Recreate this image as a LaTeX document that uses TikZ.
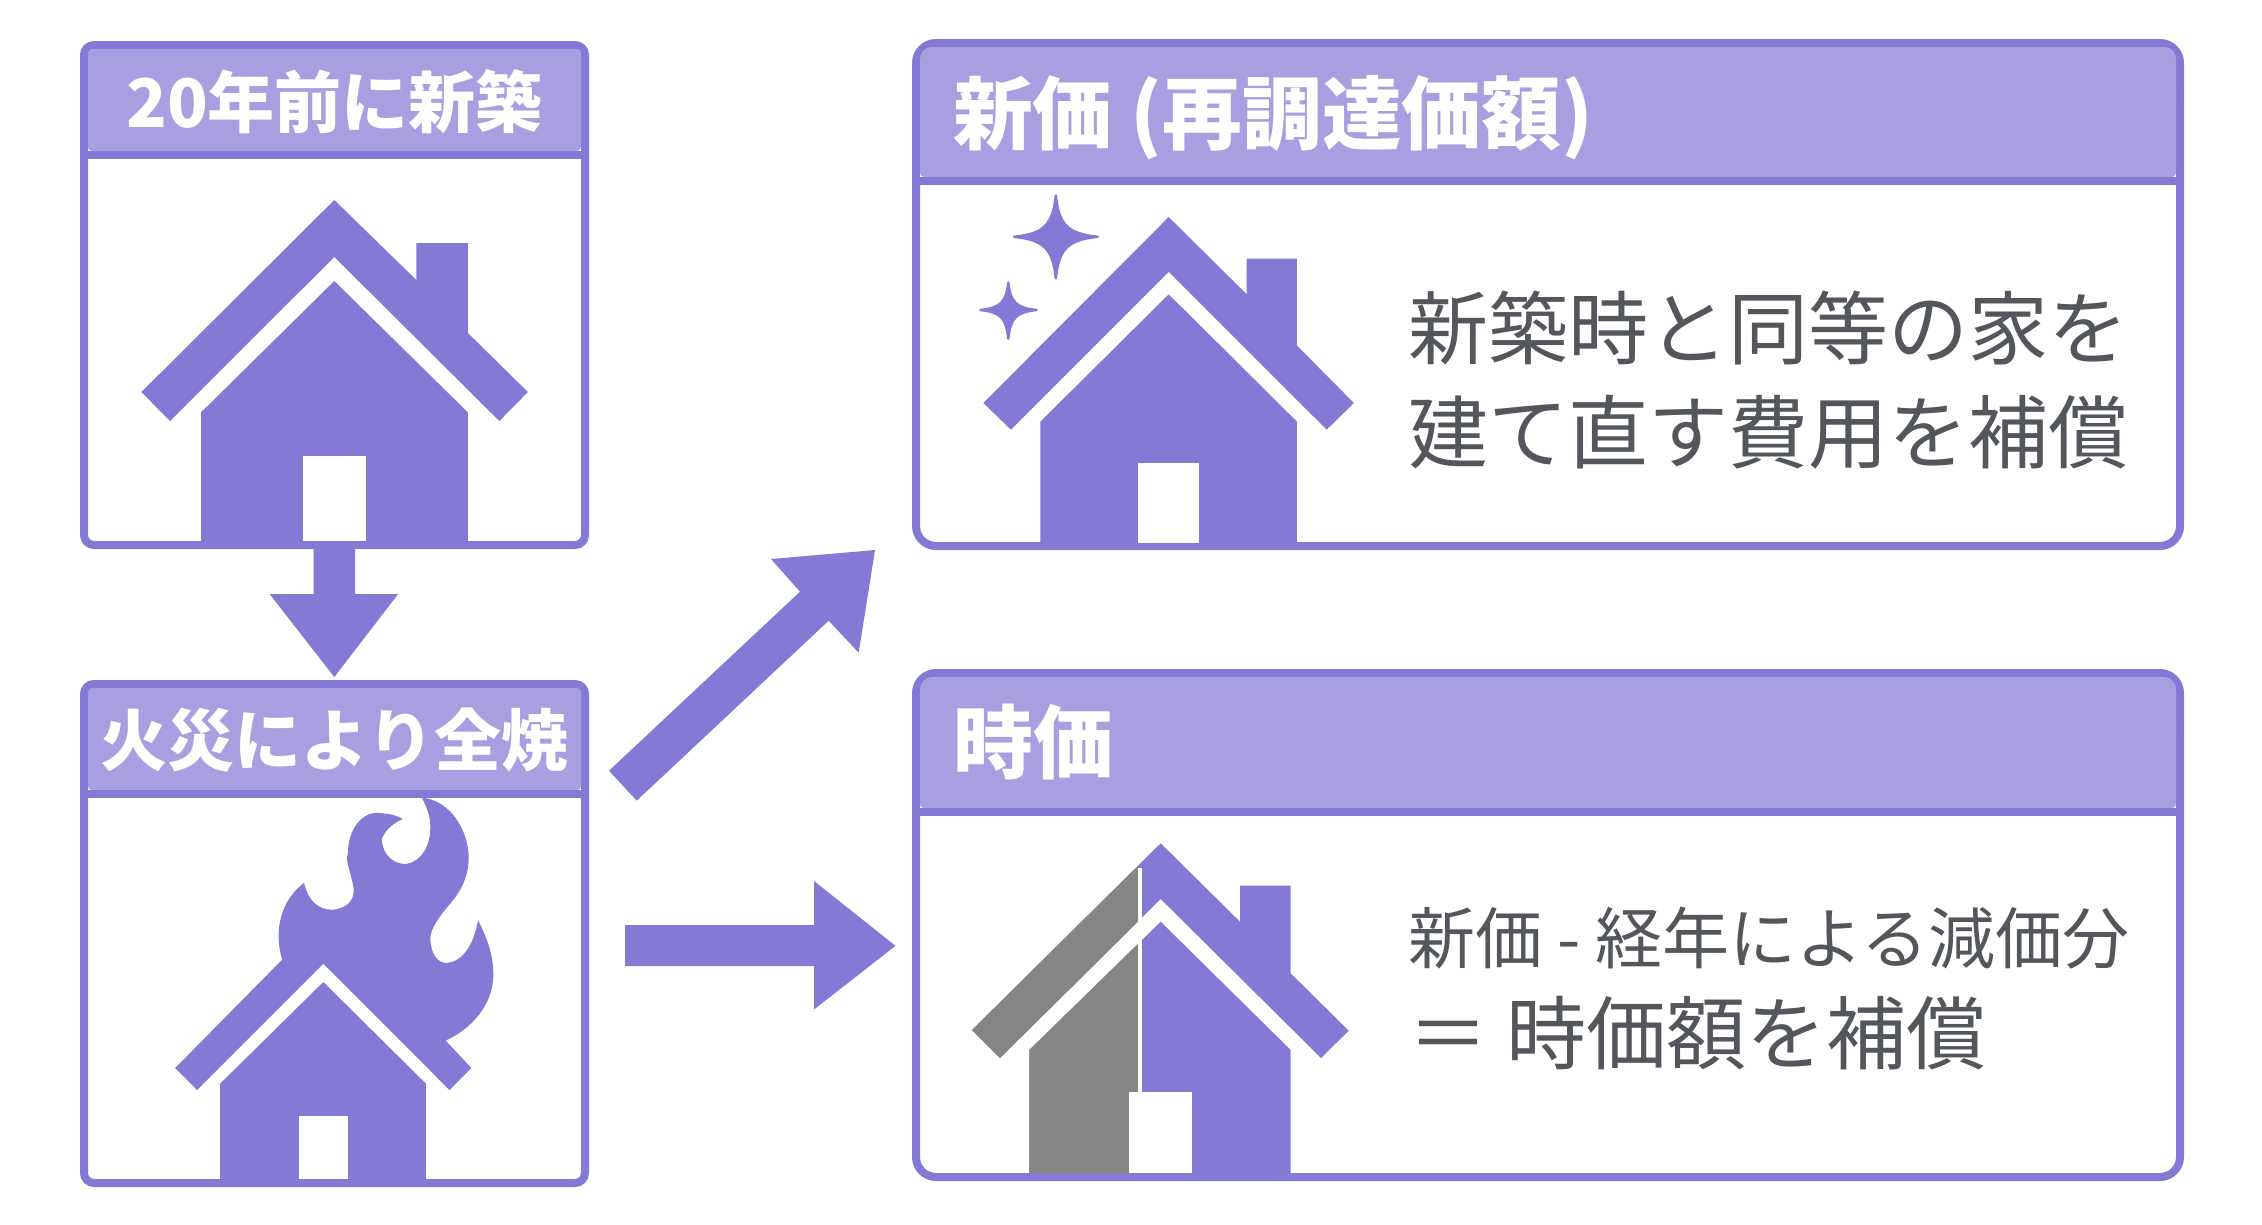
\documentclass[tikz,border=0pt]{standalone}
\usepackage{fontspec}
\setmainfont{Noto Sans CJK JP}
\definecolor{bord}{HTML}{8579D6}
\definecolor{head}{HTML}{A89FE0}
\definecolor{ink}{HTML}{53565A}
\definecolor{grayhalf}{HTML}{858585}
\tikzset{
  frame/.style={draw=bord,line width=8pt,fill=white},
  headbar/.style={fill=head},
  headrule/.style={draw=bord,line width=8pt},
  icon/.style={fill=bord},
  spark/.style={fill=bord,draw=bord,line width=2.5pt,line join=round},
  hole/.style={fill=white},
  headtext/.style={text=white,font=\bfseries,inner sep=0pt},
  bodytext/.style={text=ink,inner sep=0pt,anchor=base west},
}
\newcommand{\fs}[1]{\fontsize{#1pt}{#1pt}\selectfont}
\begin{document}
\begin{tikzpicture}[x=1pt,y=-1pt]
\useasboundingbox (0,0) rectangle (2262,1224);
% box 1
\draw[frame,rounded corners=10pt] (84,45) rectangle (585,545);
\fill[headbar,rounded corners=4pt] (88,49) rectangle (581,151);
\draw[headrule] (84,155) -- (585,155);
\node[headtext,anchor=base] (t1) at (334.5,127) {\fs{67}20年前に新築};
\fill[icon] (334.3,200) -- (416.4,280) -- (416.4,243) -- (467.9,243) -- (467.9,333) -- (527.9,392) -- (499.3,421) -- (334.3,257) -- (170,421) -- (141.4,392) -- cycle;
\fill[icon] (334.3,281) -- (467.9,412.4) -- (467.9,545) -- (201,545) -- (201,412.4) -- cycle;
\fill[hole] (302.9,455.8) rectangle (366.4,540.6);
% arrow down
\fill[icon] (313.6,546) -- (355,546) -- (355,594) -- (398.2,594) -- (334.3,677) -- (269.6,594) -- (313.6,594) -- cycle;
% box 2
\draw[frame,rounded corners=10pt] (84,684) rectangle (585,1183);
\fill[headbar,rounded corners=4pt] (88,688) rectangle (581,790);
\draw[headrule] (84,794) -- (585,794);
\node[headtext,anchor=base] (t2) at (334.5,765) {\fs{67}火災により全焼};
\fill[icon] (282.2,959.6) .. controls (276,940) and (275,905) .. (304,883)
 .. controls (308,900) and (318,910) .. (332.6,909.7)
 .. controls (348,908) and (355,900) .. (353.5,887.3)
 .. controls (350,868) and (345,862) .. (348,852.8)
 .. controls (348,830) and (362,810) .. (380.9,813.2)
 .. controls (390,814) and (396,815) .. (402.8,819)
 .. controls (388,825) and (380,838) .. (382,842.5)
 .. controls (384,855) and (393,864) .. (405.6,863.9)
 .. controls (422,862) and (430,845) .. (430.3,828.7)
 .. controls (431,818) and (427,808) .. (422,797.7)
 .. controls (450,800) and (468,830) .. (468.7,856.3)
 .. controls (469,875) and (462,890) .. (449.5,904.5)
 .. controls (438,918) and (430,930) .. (430.3,938.9)
 .. controls (431,955) and (438,963) .. (446.7,963)
 .. controls (462,962) and (474,945) .. (478,920)
 .. controls (488,940) and (493,955) .. (493.3,973.4)
 .. controls (494,1005) and (470,1030) .. (445.6,1040.5)
 -- (471.4,1068) -- (449.5,1090) -- (323.3,963.7) -- (197,1090) -- (175.2,1068) -- cycle;
\fill[icon] (323.3,982) -- (425.9,1083.6) -- (425.9,1183) -- (220.2,1183) -- (220.2,1083.6) -- cycle;
\fill[hole] (298.6,1116.3) rectangle (348,1179);
% arrow up-right
\fill[icon] (609,770.7) -- (800,591.7) -- (771,559) -- (875,550) -- (858.7,652.7) -- (828.7,620.7) -- (636.7,800.7) -- cycle;
% arrow right
\fill[icon] (625,925) -- (814,925) -- (814,881) -- (895.5,945.8) -- (814,1009.5) -- (814,966) -- (625,966) -- cycle;
% box 3
\draw[frame,rounded corners=20pt] (916,43) rectangle (2180,546);
\fill[headbar,rounded corners=12pt] (920,47) rectangle (2176,120);
\fill[headbar,rounded corners=4pt] (920,80) rectangle (2176,177);
\draw[headrule] (916,181) -- (2180,181);
\node[headtext,anchor=base west] (t3) at (953,143) {\fs{79.7}新価 (再調達価額)};
\fill[icon] (1168.7,217) -- (1246.7,294.3) -- (1246.7,258.5) -- (1296.9,258.5) -- (1296.9,345.5) -- (1353.9,403) -- (1326.7,429.7) -- (1168.7,271.8) -- (1011,429.7) -- (983.4,403) -- cycle;
\fill[icon] (1168.7,294.3) -- (1296.9,421.6) -- (1296.9,546) -- (1040.4,546) -- (1040.4,421.6) -- cycle;
\fill[hole] (1138,463) rectangle (1198.9,543);
% sparkles
\fill[spark] (1055.8,195.5) .. controls (1058.8,224.8) and (1067.8,233.8) .. (1097.8,236.8) .. controls (1067.8,239.8) and (1058.8,248.8) .. (1055.8,278.4) .. controls (1052.8,248.8) and (1043.8,239.8) .. (1014.1,236.8) .. controls (1043.8,233.8) and (1052.8,224.8) .. cycle;
\fill[spark] (1008.3,282.5) .. controls (1010.3,302) and (1016.3,308) .. (1036.6,310) .. controls (1016.3,312) and (1010.3,318) .. (1008.3,338.7) .. controls (1006.3,318) and (1000.3,312) .. (980.4,310) .. controls (1000.3,308) and (1006.3,302) .. cycle;
\node[bodytext] (b1) at (1408,358) {\fs{80}新築時と同等の家を};
\node[bodytext] (b2) at (1408,462) {\fs{80}建て直す費用を補償};
% box 4
\draw[frame,rounded corners=20pt] (916,673) rectangle (2180,1177);
\fill[headbar,rounded corners=12pt] (920,677) rectangle (2176,750);
\fill[headbar,rounded corners=4pt] (920,710) rectangle (2176,808);
\draw[headrule] (916,812) -- (2180,812);
\node[headtext,anchor=base west] (t4) at (953,772) {\fs{80}時価};
\fill[icon] (1160.7,843.3) -- (1240,921.7) -- (1240,885.7) -- (1290.7,885.7) -- (1290.7,973.3) -- (1348.7,1030.7) -- (1321,1058) -- (1160.7,899) -- (1000,1058) -- (972,1030) -- cycle;
\fill[icon] (1160.7,921.7) -- (1290.7,1050) -- (1290.7,1175) -- (1029.3,1175) -- (1029.3,1050) -- cycle;
\begin{scope}
\clip (960,868) rectangle (1138.3,1180);
\fill[grayhalf] (1160.7,843.3) -- (1240,921.7) -- (1160.7,899) -- (1000,1058) -- (972,1030) -- cycle;
\fill[grayhalf] (1160.7,921.7) -- (1200,960) -- (1200,1173) -- (1029.3,1173) -- (1029.3,1050) -- cycle;
\end{scope}
\fill[hole] (1138.3,868) rectangle (1141.7,1092.3);
\fill[hole] (1129.3,1092.3) rectangle (1191.7,1172.7);
\node[bodytext] (b3) at (1408,963) {\fs{67}新価 - 経年による減価分};
\node[bodytext] (b4) at (1408,1063) {\fs{80}＝ 時価額を補償};
\end{tikzpicture}
\end{document}
